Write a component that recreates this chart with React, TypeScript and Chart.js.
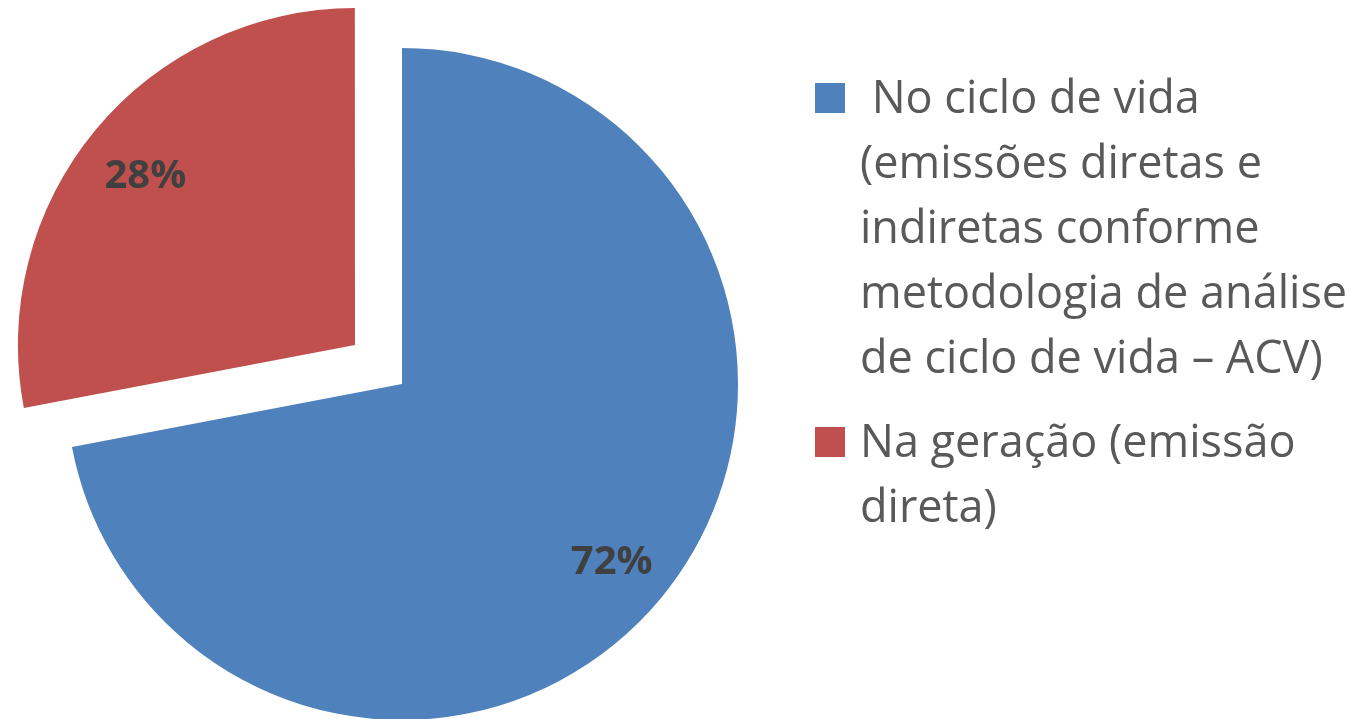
import React, { useEffect, useRef } from "react";
import { Chart, registerables } from "chart.js";

Chart.register(...registerables);

const categories = [
  "No ciclo de vida (emissões diretas e indiretas conforme metodologia de análise de ciclo de vida – ACV)",
  "Na geração (emissão direta)",
];
const values = [72, 28];
const valueLabels = ["72%", "28%"];
const legendLines = [
  [" No ciclo de vida", "(emissões diretas e", "indiretas conforme", "metodologia de análise", "de ciclo de vida – ACV)"],
  ["Na geração (emissão", "direta)"],
];
const colors = ["#4F81BD", "#C0504D"];
const explode = [0, 244];

const FONT = "'Open Sans', sans-serif";

const labelPlugin = {
  id: "sliceLabels",
  afterDatasetsDraw(chart: any) {
    const ctx = chart.ctx;
    const meta = chart.getDatasetMeta(0);
    ctx.save();
    ctx.font = `bold 40px ${FONT}`;
    ctx.fillStyle = "#404040";
    ctx.textAlign = "center";
    ctx.textBaseline = "middle";
    meta.data.forEach((arc: any, i: number) => {
      const p = arc.getProps(["x", "y", "startAngle", "endAngle", "outerRadius"], true);
      const mid = (p.startAngle + p.endAngle) / 2;
      const off = (arc.options.offset || 0) / 4;
      const d = p.outerRadius * 0.81 + off;
      ctx.fillText(valueLabels[i], p.x + Math.cos(mid) * d, p.y + Math.sin(mid) * d + 5);
    });
    ctx.restore();
  },
};

const legendPlugin = {
  id: "wrapLegend",
  afterDraw(chart: any) {
    const ctx = chart.ctx;
    ctx.save();
    ctx.font = `45px ${FONT}`;
    ctx.textBaseline = "alphabetic";
    ctx.textAlign = "left";
    const starts = [113, 457];
    legendLines.forEach((lines, i) => {
      const base = starts[i];
      ctx.fillStyle = colors[i];
      ctx.fillRect(815, base - 30, 30, 30);
      ctx.fillStyle = "#595959";
      lines.forEach((ln, j) => {
        ctx.fillText(ln, 860, base + j * 65);
      });
    });
    ctx.restore();
  },
};

export default function App() {
  const ref = useRef<HTMLCanvasElement>(null);
  useEffect(() => {
    if (!ref.current) return;
    const chart = new Chart(ref.current, {
      type: "pie",
      data: {
        labels: categories,
        datasets: [
          {
            data: values,
            backgroundColor: colors,
            borderWidth: 0,
            offset: explode,
            clip: false,
          } as any,
        ],
      },
      options: {
        responsive: false,
        animation: false,
        radius: 336,
        layout: { padding: { left: 0, right: 567, top: 49, bottom: 0 } },
        plugins: {
          legend: { display: false },
          tooltip: { enabled: false },
        },
      } as any,
      plugins: [labelPlugin, legendPlugin],
    });
    return () => chart.destroy();
  }, []);
  return (
    <div style={{ position: "fixed", left: 0, top: 0, width: 1371, height: 719, background: "#fff" }}>
      <canvas ref={ref} width={1371} height={719} />
    </div>
  );
}
